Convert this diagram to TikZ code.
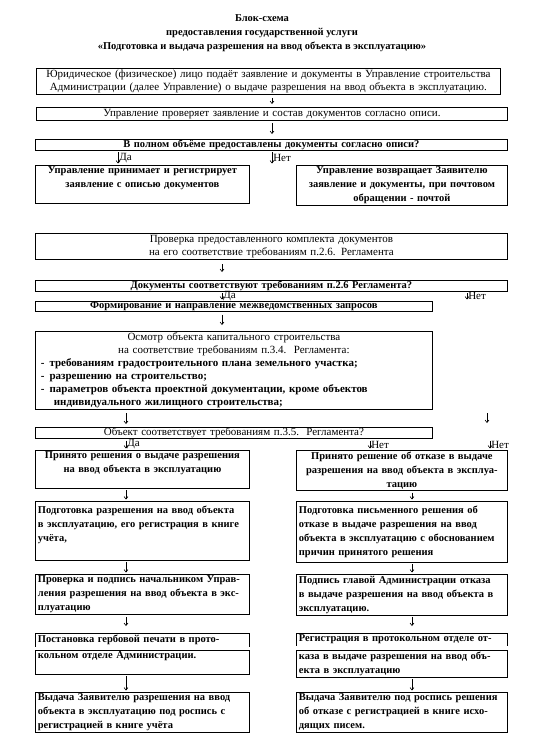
\documentclass[tikz,border=0pt]{standalone}
\usepackage{fontspec}
\setmainfont{Liberation Serif}
\usetikzlibrary{arrows.meta,positioning}

\begin{document}
\begin{tikzpicture}[x=1pt,y=-1pt,
        box/.style={draw,line width=.8pt,anchor=north west,inner xsep=2.5pt,inner ysep=1.5pt,align=center,font=\fontsize{11}{13}\selectfont},
        wide/.style={box,text width=467pt},
        mid/.style={box,text width=392pt},
        heavy/.style={font=\bfseries\fontsize{10.5}{13}\selectfont},
        col/.style={box,text width=209pt,font=\bfseries\fontsize{10.5}{14}\selectfont},
        colr/.style={col,text width=206pt},
        arr/.style={-{Straight Barb[length=2.5pt,width=4pt]},line width=.6pt,shorten <=1.5pt,shorten >=1.5pt},
        lbl/.style={right,inner sep=1pt,font=\fontsize{11}{13}\selectfont}
    ]
        \useasboundingbox (0,0) rectangle (534,752);

        \coordinate (xm) at (272,0);
        \coordinate (xda) at (118,0);
        \coordinate (xc) at (222,0);
        \coordinate (xl) at (126,0);
        \coordinate (xr) at (412,0);
        \coordinate (xn1) at (467,0);
        \coordinate (xn2) at (370,0);
        \coordinate (xn3) at (490,0);
        \coordinate (n1) at (467,301);
        \coordinate (n2) at (487,413);
        \coordinate (n3) at (487,423);

        \node[align=center,font=\bfseries\fontsize{10.5}{14}\selectfont] (title) at (262,33) {Блок-схема\\предоставления государственной услуги\\«Подготовка и выдача разрешения на ввод объекта в эксплуатацию»};

        \node[box,text width=459pt] (b1) at (36,68) {Юридическое (физическое) лицо подаёт заявление и документы в Управление строительства\\Администрации (далее Управление) о выдаче разрешения на ввод объекта в эксплуатацию.};
        \node[wide,text width=466pt] (b2) at (36,107) {Управление проверяет заявление и состав документов согласно описи.};
        \node[wide,heavy,inner ysep=.5pt] (b3) at (35,139) {В полном объёме предоставлены документы согласно описи?};
        \node[col] (b4l) at (35,165) {Управление принимает и регистрирует\\заявление с описью документов\\\mbox{}};
        \node[colr] (b4r) at (296,165) {Управление возвращает Заявителю\\заявление и документы, при почтовом\\обращении - почтой};

        \node[wide] (b5) at (35,233) {Проверка предоставленного комплекта документов\\на его соответствие требованиям п.2.6. Регламента};
        \node[wide,heavy,inner ysep=.5pt] (b6) at (35,280) {Документы соответствуют требованиям п.2.6 Регламента?};
        \node[mid,heavy,inner ysep=.5pt] (b7) at (35,301) {Формирование и направление межведомственных запросов};
        \node[mid,align=left] (b8) at (35,331) {\makebox[\linewidth][c]{Осмотр объекта капитального строительства}\\\makebox[\linewidth][c]{на соответствие требованиям п.3.4.\ \ Регламента:}\\\bfseries\hspace*{3pt}-\hspace{5pt}требованиям градостроительного плана земельного участка;\\\hspace*{3pt}-\hspace{5pt}разрешению на строительство;\\\hspace*{3pt}-\hspace{5pt}параметров объекта проектной документации, кроме объектов\\\hspace*{16pt}индивидуального жилищного строительства;};
        \node[mid,inner ysep=.5pt] (b9) at (35,427) {Объект соответствует требованиям п.3.5.\ \ Регламента?};

        \node[col] (b10l) at (35,450) {Принято решения о выдаче разрешения\\на ввод объекта в эксплуатацию\\\mbox{}};
        \node[colr] (b10r) at (296,450) {Принято решение об отказе в выдаче\\разрешения на ввод объекта в эксплуа-\\тацию};
        \node[col,align=left,inner ysep=4.5pt] (b11l) at (35,501) {Подготовка разрешения на ввод объекта\\в эксплуатацию, его регистрация в книге\\учёта,\\\mbox{}};
        \node[colr,align=left,inner ysep=4.5pt] (b11r) at (296,501) {Подготовка письменного решения об\\отказе в выдаче разрешения на ввод\\объекта в эксплуатацию с обоснованием\\причин принятого решения};
        \node[col,align=left] (b12l) at (35,574) {Проверка и подпись начальником Управ-\\ления разрешения на ввод объекта в экс-\\плуатацию};
        \node[colr,align=left] (b12r) at (296,574) {Подпись главой Администрации отказа\\в выдаче разрешения на ввод объекта в\\эксплуатацию.};
        \node[col,align=left,draw=none] (b13l) at (35,633) {Постановка гербовой печати в прото-};
        \node[colr,align=left,draw=none] (b13r) at (296,633) {Регистрация в протокольном отделе от-};
        \node[col,align=left] (b14l) at (35,650) {кольном отделе Администрации.\\\mbox{}};
        \node[colr,align=left] (b14r) at (296,650) {каза в выдаче разрешения на ввод объ-\\екта в эксплуатацию};
        \node[col,align=left] (b15l) at (35,692) {Выдача Заявителю разрешения на ввод\\объекта в эксплуатацию под роспись с\\регистрацией в книге учёта};
        \node[colr,align=left] (b15r) at (296,692) {Выдача Заявителю под роспись решения\\об отказе с регистрацией в книге исхо-\\дящих писем.};

        \draw[line width=.8pt] (b13l.south west) |- (b13l.north east) -- (b13l.south east);
        \draw[line width=.8pt] (b13r.south west) |- (b13r.north east) -- (b13r.south east);

        \draw[arr,shorten <=3pt,shorten >=3pt] (b1.south -| xm) -- (b2.north -| xm);
        \draw[arr,shorten <=3pt,shorten >=5pt] (b2.south -| xm) -- (b3.north -| xm);
        \draw[arr] (b3.south -| xda) -- (b4l.north -| xda) node[lbl,midway] {Да};
        \draw[arr] (b3.south -| xm) -- (b4r.north -| xm) node[lbl,midway] {Нет};
        \draw[arr,shorten <=5pt,shorten >=8pt] (b5.south -| xc) -- (b6.north -| xc);
        \draw[arr] (b6.south -| xc) -- (b7.north -| xc) node[lbl,midway] {Да};
        \draw[arr] (b6.south -| xn1) -- (n1) node[lbl,midway] {Нет};
        \draw[arr,shorten <=3pt,shorten >=6pt] (b7.south -| xc) -- (b8.north -| xc);
        \draw[arr,shorten <=3pt,shorten >=3pt] (b8.south -| xl) -- (b9.north -| xl);
        \draw[arr,shorten <=0pt,shorten >=0pt] (n2) -- (n3);
        \draw[arr] (b9.south -| xl) -- (b10l.north -| xl) node[lbl,midway] {Да};
        \draw[arr] (b9.south -| xn2) -- (b10r.north -| xn2) node[lbl,midway] {Нет};
        \draw[arr] (b9.south -| xn3) -- (b10r.north -| xn3) node[lbl,midway] {Нет};
        \draw[arr] (b10l.south -| xl) -- (b11l.north -| xl);
        \draw[arr] (b10r.south -| xr) -- (b11r.north -| xr);
        \draw[arr] (b11l.south -| xl) -- (b12l.north -| xl);
        \draw[arr] (b11r.south -| xr) -- (b12r.north -| xr);
        \draw[arr,shorten <=2pt,shorten >=7pt] (b12l.south -| xl) -- (b13l.north -| xl);
        \draw[arr,shorten <=2pt,shorten >=7pt] (b12r.south -| xr) -- (b13r.north -| xr);
        \draw[arr] (b14l.south -| xl) -- (b15l.north -| xl);
        \draw[arr] (b14r.south -| xr) -- (b15r.north -| xr);
    \end{tikzpicture}
\end{document}
